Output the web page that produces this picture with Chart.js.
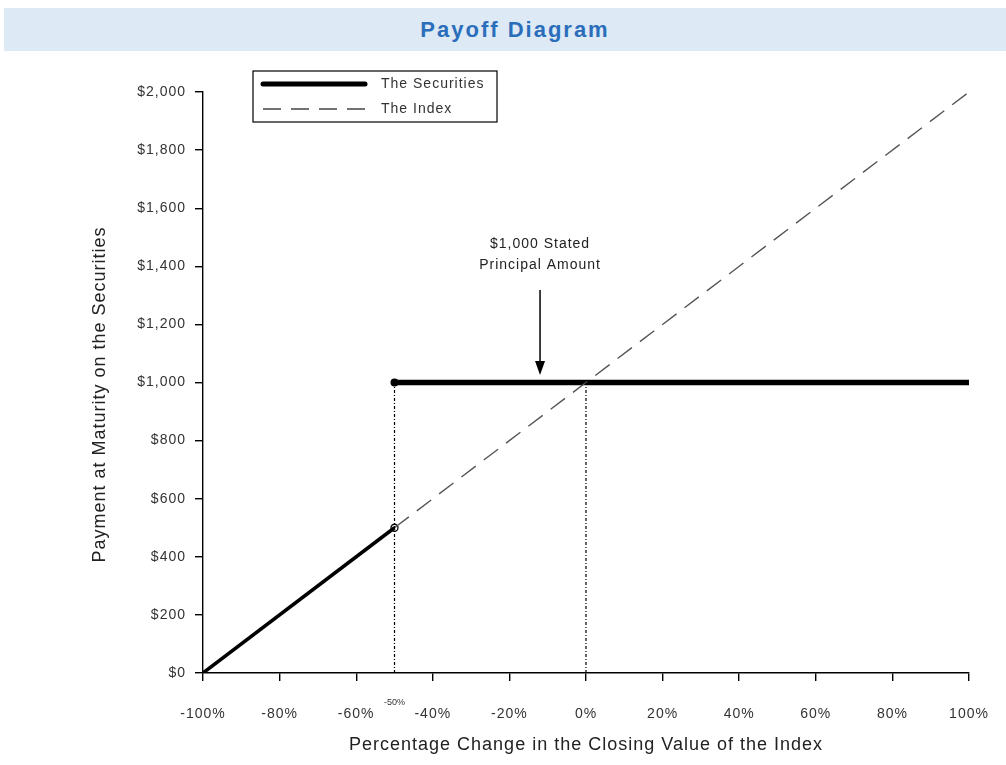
<!DOCTYPE html>
<html>
<head>
<meta charset="utf-8">
<script src="https://cdn.jsdelivr.net/npm/chart.js@4"></script>
<style>
  body { margin: 0; background: #fff; width: 1006px; height: 765px; overflow: hidden; position: relative; }
  #head {
    position: absolute; left: 4px; top: 8px; width: 982px; height: 43px; padding-left: 20px;
    background: #dde9f4; color: #2a6ebb; text-align: center;
    font: bold 22px "Liberation Sans", Arial, sans-serif; letter-spacing: 2px; line-height: 43px;
  }
  #wrap { position: absolute; left: 0; top: 51px; width: 1006px; height: 714px; }
</style>
</head>
<body>
<div id="head">Payoff Diagram</div>
<div id="wrap"><canvas id="mychart"></canvas></div>
<script>
// axis ticks
const xTicks = [-100, -80, -60, -40, -20, 0, 20, 40, 60, 80, 100];
const yTicks = [0, 200, 400, 600, 800, 1000, 1200, 1400, 1600, 1800, 2000];

// payoff lines (% change -> payment)
const securitiesLow = [{ x: -100, y: 0 }, { x: -50, y: 500 }];
const securitiesHigh = [{ x: -50, y: 1000 }, { x: 100, y: 1000 }];
const indexLine = [{ x: -50, y: 500 }, { x: 100, y: 2000 }];
const openPoint = [{ x: -50, y: 500 }];
const dropLineA = [{ x: -50, y: 0 }, { x: -50, y: 1000 }];
const dropLineB = [{ x: 0, y: 0 }, { x: 0, y: 1000 }];

// annotation
const noteText = ["$1,000 Stated", "Principal Amount"];
const noteX = -12;
const noteTextY = [1477, 1404];
const arrowFrom = 1318;
const arrowTo = 1026;
const barrierLabel = { x: -50, text: "-50%" };

const FONT = '"Liberation Sans", Arial, sans-serif';

// the original uses loosely tracked text everywhere
const spacing = {
  id: "spacing",
  beforeLayout(chart) { chart.ctx.letterSpacing = "1px"; },
  beforeDraw(chart) { chart.ctx.letterSpacing = "1px"; },
};

const extras = {
  id: "extras",
  afterDatasetsDraw(chart) {
    const { ctx, scales: { x, y } } = chart;
    ctx.save();
    ctx.letterSpacing = "1px";
    // annotation text + arrow
    ctx.fillStyle = "#222";
    ctx.font = "14px " + FONT;
    ctx.textAlign = "center";
    ctx.textBaseline = "middle";
    const ax = x.getPixelForValue(noteX);
    noteText.forEach((t, i) => ctx.fillText(t, ax, y.getPixelForValue(noteTextY[i])));
    const y1 = y.getPixelForValue(arrowFrom), y2 = y.getPixelForValue(arrowTo);
    ctx.strokeStyle = "#000";
    ctx.lineWidth = 1.5;
    ctx.beginPath();
    ctx.moveTo(ax, y1);
    ctx.lineTo(ax, y2 - 12);
    ctx.stroke();
    ctx.beginPath();
    ctx.moveTo(ax - 5, y2 - 14);
    ctx.lineTo(ax + 5, y2 - 14);
    ctx.lineTo(ax, y2);
    ctx.closePath();
    ctx.fillStyle = "#000";
    ctx.fill();

    // small barrier label
    ctx.letterSpacing = "0px";
    ctx.font = "9px " + FONT;
    ctx.fillStyle = "#333";
    ctx.fillText(barrierLabel.text, x.getPixelForValue(barrierLabel.x), y.bottom + 30);

    // legend box
    const lx = 253, ly = 20, lw = 244, lh = 51;
    ctx.lineWidth = 1.2;
    ctx.strokeStyle = "#000";
    ctx.strokeRect(lx, ly, lw, lh);
    ctx.lineCap = "round";
    ctx.lineWidth = 5;
    ctx.beginPath();
    ctx.moveTo(lx + 10, ly + 13);
    ctx.lineTo(lx + 112, ly + 13);
    ctx.stroke();
    ctx.lineCap = "butt";
    ctx.lineWidth = 1.3;
    ctx.strokeStyle = "#444";
    ctx.setLineDash([18, 10]);
    ctx.beginPath();
    ctx.moveTo(lx + 10, ly + 38);
    ctx.lineTo(lx + 112, ly + 38);
    ctx.stroke();
    ctx.setLineDash([]);
    ctx.letterSpacing = "1px";
    ctx.font = "14px " + FONT;
    ctx.textAlign = "left";
    ctx.fillStyle = "#333";
    ctx.fillText("The Securities", lx + 128, ly + 13);
    ctx.fillText("The Index", lx + 128, ly + 38);
    ctx.restore();
  },
};

const myChart = new Chart(document.getElementById("mychart"), {
  type: "scatter",
  data: {
    datasets: [
      { data: dropLineA, showLine: true, borderColor: "#000", borderWidth: 1.2, borderDash: [3, 2, 1, 2], pointRadius: 0 },
      { data: dropLineB, showLine: true, borderColor: "#000", borderWidth: 1.2, borderDash: [3, 2, 1, 2], pointRadius: 0 },
      { data: indexLine, showLine: true, borderColor: "#555", borderWidth: 1.4, borderDash: [18, 10], pointRadius: 0 },
      { data: securitiesLow, showLine: true, borderColor: "#000", borderWidth: 3.5, pointRadius: 0 },
      {
        data: securitiesHigh, showLine: true, borderColor: "#000", borderWidth: 5.5,
        pointRadius: [4, 0], pointBackgroundColor: "#000", pointBorderWidth: 0,
      },
      {
        data: openPoint, showLine: false, pointRadius: 3.5, pointBackgroundColor: "#fff",
        pointBorderColor: "#000", pointBorderWidth: 1.3,
      },
    ],
  },
  options: {
    responsive: true,
    maintainAspectRatio: false,
    animation: false,
    layout: { padding: { left: 85, right: 37, top: 41, bottom: 5 } },
    plugins: { legend: { display: false }, tooltip: { enabled: false } },
    scales: {
      x: {
        type: "linear",
        min: -100,
        max: 100,
        afterBuildTicks: (s) => { s.ticks = xTicks.map((v) => ({ value: v })); },
        afterFit: (s) => { s.height = 87; s.paddingLeft = 0; s.paddingRight = 0; },
        grid: { drawOnChartArea: false, drawTicks: true, tickLength: 8, color: "#000", lineWidth: 1.4 },
        border: { color: "#000", width: 1.4 },
        ticks: { padding: 25, color: "#333", font: { family: FONT, size: 14 }, callback: (v) => v + "%", maxRotation: 0 },
        title: { display: true, text: "Percentage Change in the Closing Value of the Index", color: "#222", font: { family: FONT, size: 18 } },
      },
      y: {
        min: 0,
        max: 2000,
        afterBuildTicks: (s) => { s.ticks = yTicks.map((v) => ({ value: v })); },
        afterFit: (s) => { s.width = 118; s.paddingTop = 0; s.paddingBottom = 0; },
        grid: { drawOnChartArea: false, drawTicks: true, tickLength: 8, color: "#000", lineWidth: 1.4 },
        border: { color: "#000", width: 1.4 },
        ticks: { padding: 9, color: "#333", font: { family: FONT, size: 14 }, callback: (v) => "$" + v.toLocaleString("en-US") },
        title: { display: true, text: "Payment at Maturity on the Securities    ", color: "#222", font: { family: FONT, size: 18 } },
      },
    },
  },
  plugins: [spacing, extras],
});
</script>
</body>
</html>
